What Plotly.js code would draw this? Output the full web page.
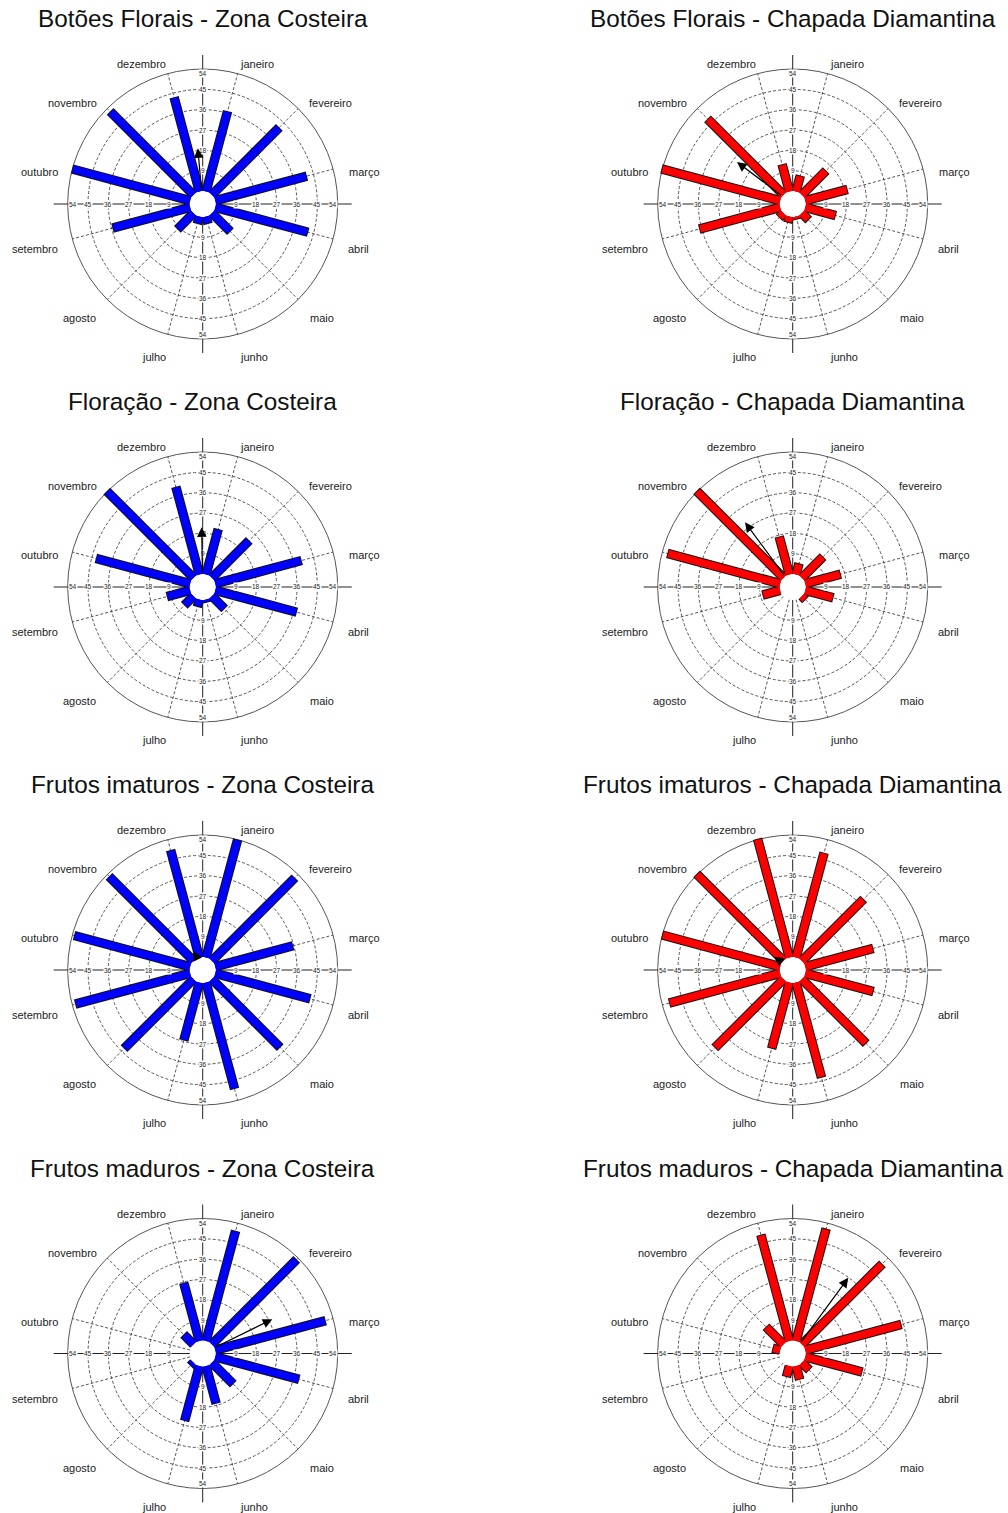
<!DOCTYPE html>
<html>
<head>
<meta charset="utf-8">
<script src="https://cdn.plot.ly/plotly-3.0.1.min.js"></script>
<style>
  html, body { margin: 0; padding: 0; background: #ffffff; }
  #chart { width: 1008px; height: 1513px; }
</style>
</head>
<body>
<div id="chart"></div>
<script>
// ---- data -------------------------------------------------------------
const MONTHS = ['janeiro', 'fevereiro', 'março', 'abril', 'maio', 'junho',
                'julho', 'agosto', 'setembro', 'outubro', 'novembro', 'dezembro'];
// month direction, degrees clockwise from north
const MONTH_ANGLES = [15, 45, 75, 105, 135, 165, 195, 225, 255, 285, 315, 345];
const RING_TICKS = [9, 18, 27, 36, 45, 54];

const PANEL_TITLES = [
  'Botões Florais - Zona Costeira', 'Botões Florais - Chapada Diamantina',
  'Floração - Zona Costeira', 'Floração - Chapada Diamantina',
  'Frutos imaturos - Zona Costeira', 'Frutos imaturos - Chapada Diamantina',
  'Frutos maduros - Zona Costeira', 'Frutos maduros - Chapada Diamantina'
];

// monthly values, janeiro ... dezembro
const botoesCosteira   = [36.4, 41.8, 41.6, 42.2, 11.2, 3.0, 3.0, 9.7, 35.2, 53.7, 51.8, 42.8];
const botoesChapada    = [6.9, 14.8, 19.0, 13.6, 3.9, 1.0, 2.4, 2.4, 36.7, 54.0, 47.2, 12.1];
const floracaoCosteira = [20.4, 23.0, 39.2, 37.0, 7.6, 1.0, 3.0, 5.4, 10.3, 42.8, 53.9, 39.8];
const floracaoChapada  = [4.7, 12.9, 15.9, 12.5, 1.9, 0, 0, 0, 7.7, 51.3, 54.0, 17.0];
const imaturosCosteira = [53.6, 51.6, 35.3, 43.2, 42.4, 48.4, 26.2, 43.1, 52.3, 52.8, 52.5, 48.8];
const imaturosChapada  = [47.6, 38.3, 30.8, 30.9, 39.9, 43.2, 29.9, 42.6, 50.5, 53.7, 54.0, 54.0];
const madurosCosteira  = [50.1, 52.7, 50.2, 38.1, 13.0, 16.9, 24.8, 1.6, 0, 0, 5.8, 26.3];
const madurosChapada   = [51.1, 50.0, 43.7, 25.8, 4.3, 5.9, 4.6, 0, 0, 3.1, 10.6, 48.3];

// mean vector of each panel: direction (degrees clockwise from north) and length
const MEAN_ANGLE  = [355, 307, 359, 323.6, 334, 305.5, 63.8, 36.3];
const MEAN_LENGTH = [19.0, 25.1, 20.7, 29.8, 3.6, 4.4, 28.6, 35.8];

const PANEL_VALUES = [botoesCosteira, botoesChapada, floracaoCosteira, floracaoChapada,
                      imaturosCosteira, imaturosChapada, madurosCosteira, madurosChapada];

// ---- geometry & style -------------------------------------------------
const FIG_W = 1008, FIG_H = 1513;
const PX_PER_UNIT = 122 / 54;          // radial scale
const HOLE = 13 / PX_PER_UNIT;         // empty centre, in value units
const RIM = HOLE + 54;                 // outer circle
const AXIS_EXT = 149 / PX_PER_UNIT;    // cross axes run a little past the rim
const HALF_PX = 152;                   // half size of each square subplot
const SPAN = HALF_PX / PX_PER_UNIT;
const COL_X = [202.7, 792.7];
const ROW_Y = [204, 587, 970, 1353.5];
const REGION_COLORS = ['#0000ff', '#ff0000'];   // Zona Costeira, Chapada Diamantina
const GRID_DASH = '3px,2px';

// month label anchor offsets (px from the centre)
const LABEL_DX = [54.3, 127.8, 161.3, 155.8, 118.8, 50.8, -49.2, -123.2, -168.2, -163.2, -130.2, -61.7];
const LABEL_DY = [-140, -101, -32, 45, 114, 153, 153, 114, 45, -32, -101, -140];

const FONT = 'Liberation Sans, Arial, sans-serif';

const rad = d => d * Math.PI / 180;
const polarX = (r, deg) => r * Math.sin(rad(deg));
const polarY = (r, deg) => r * Math.cos(rad(deg));

const traces = [];
const shapes = [];
const annotations = [];
const layout = {
  width: FIG_W, height: FIG_H,
  margin: { l: 0, r: 0, t: 0, b: 0 },
  paper_bgcolor: '#ffffff', plot_bgcolor: 'rgba(0,0,0,0)',
  showlegend: false, hovermode: false,
  font: { family: FONT, color: '#222' }
};

PANEL_VALUES.forEach((values, i) => {
  const col = i % 2, row = Math.floor(i / 2);
  const cx = COL_X[col], cy = ROW_Y[row];
  const n = i === 0 ? '' : String(i + 1);
  const xid = 'x' + n, yid = 'y' + n;
  const axisBase = { range: [-SPAN, SPAN], visible: false, fixedrange: true,
                     showgrid: false, zeroline: false };
  layout['xaxis' + n] = Object.assign({}, axisBase,
    { domain: [(cx - HALF_PX) / FIG_W, (cx + HALF_PX) / FIG_W], anchor: yid });
  layout['yaxis' + n] = Object.assign({}, axisBase,
    { domain: [1 - (cy + HALF_PX) / FIG_H, 1 - (cy - HALF_PX) / FIG_H], anchor: xid });

  const ref = { xref: xid, yref: yid, layer: 'below' };
  // dashed rings
  RING_TICKS.filter(t => t < 54).forEach(t => {
    const r = HOLE + t;
    shapes.push(Object.assign({ type: 'circle', x0: -r, x1: r, y0: -r, y1: r,
      line: { color: '#444', width: 0.9, dash: GRID_DASH } }, ref));
  });
  // dashed spokes along each month
  MONTH_ANGLES.forEach(a => {
    shapes.push(Object.assign({ type: 'line',
      x0: polarX(HOLE, a), y0: polarY(HOLE, a), x1: polarX(RIM, a), y1: polarY(RIM, a),
      line: { color: '#444', width: 0.9, dash: GRID_DASH } }, ref));
  });
  // cross axes
  shapes.push(Object.assign({ type: 'line', x0: -AXIS_EXT, x1: AXIS_EXT, y0: 0, y1: 0,
    line: { color: '#222', width: 1 } }, ref));
  shapes.push(Object.assign({ type: 'line', x0: 0, x1: 0, y0: -AXIS_EXT, y1: AXIS_EXT,
    line: { color: '#222', width: 1 } }, ref));
  // rim
  shapes.push(Object.assign({ type: 'circle', x0: -RIM, x1: RIM, y0: -RIM, y1: RIM,
    line: { color: '#555', width: 1 } }, ref));
  // empty centre
  shapes.push(Object.assign({ type: 'circle', x0: -HOLE, x1: HOLE, y0: -HOLE, y1: HOLE,
    fillcolor: '#ffffff', line: { width: 0 } }, ref));

  // bars: dark outline underneath, coloured body on top
  const seg = (extra) => {
    const xs = [], ys = [];
    values.forEach((v, m) => {
      if (!(v > 0)) return;
      const a = MONTH_ANGLES[m];
      xs.push(polarX(HOLE, a), polarX(HOLE + v + extra, a), null);
      ys.push(polarY(HOLE, a), polarY(HOLE + v + extra, a), null);
    });
    return { x: xs, y: ys };
  };
  const outline = seg(0.9 / PX_PER_UNIT);
  traces.push({ type: 'scatter', mode: 'lines', xaxis: xid, yaxis: yid,
    x: outline.x, y: outline.y, connectgaps: false,
    line: { color: '#111', width: 9.5 }, hoverinfo: 'skip' });
  const body = seg(0);
  traces.push({ type: 'scatter', mode: 'lines', xaxis: xid, yaxis: yid,
    x: body.x, y: body.y, connectgaps: false,
    line: { color: REGION_COLORS[col], width: 7.5 }, hoverinfo: 'skip' });

  // ring labels along the four axis arms
  RING_TICKS.forEach(t => {
    const r = HOLE + t - (t === 54 ? 2.2 : 0);
    [[1, 0], [-1, 0], [0, 1], [0, -1]].forEach(([dx, dy]) => {
      annotations.push({ xref: xid, yref: yid, x: dx * r, y: dy * r, text: String(t),
        showarrow: false, bgcolor: '#ffffff', borderpad: 0,
        font: { family: FONT, size: 6.5, color: '#222' },
        xanchor: 'center', yanchor: 'middle' });
    });
  });

  // mean vector
  const ma = MEAN_ANGLE[i], ml = MEAN_LENGTH[i];
  annotations.push({ xref: xid, yref: yid, axref: xid, ayref: yid,
    x: polarX(HOLE + ml, ma), y: polarY(HOLE + ml, ma),
    ax: polarX(HOLE, ma), ay: polarY(HOLE, ma),
    text: '', showarrow: true, arrowhead: 2, arrowsize: 1.6, arrowwidth: 1.2,
    arrowcolor: '#000', standoff: 0, startstandoff: 0 });

  // month names
  MONTHS.forEach((name, m) => {
    annotations.push({ xref: 'paper', yref: 'paper',
      x: (cx + LABEL_DX[m]) / FIG_W, y: 1 - (cy + LABEL_DY[m]) / FIG_H,
      text: name, showarrow: false, xanchor: 'center', yanchor: 'middle',
      font: { family: FONT, size: 11, color: '#222' } });
  });

  // panel title
  annotations.push({ xref: 'paper', yref: 'paper',
    x: cx / FIG_W, y: 1 - (cy - 185) / FIG_H,
    text: PANEL_TITLES[i], showarrow: false, xanchor: 'center', yanchor: 'middle',
    font: { family: FONT, size: 24.3, color: '#111' } });
});

layout.shapes = shapes;
layout.annotations = annotations;

Plotly.newPlot('chart', traces, layout, { staticPlot: true, displayModeBar: false });
</script>
</body>
</html>
